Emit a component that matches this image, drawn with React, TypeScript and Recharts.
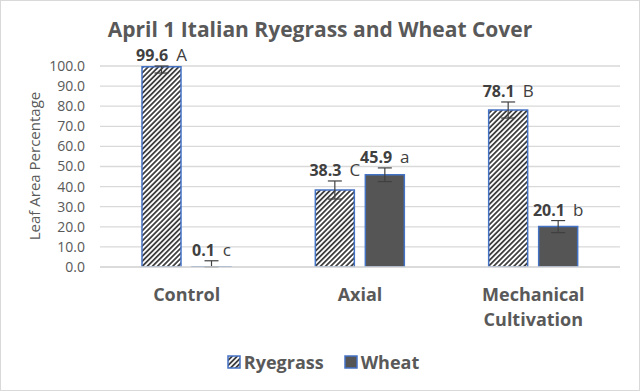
import React from 'react';
import { BarChart, Bar, XAxis, YAxis, CartesianGrid, ErrorBar, LabelList, Legend, Text } from 'recharts';

const categories = ['Control', 'Axial', 'Mechanical Cultivation'];
const ryegrass = [99.6, 38.3, 78.1];
const wheat = [0.1, 45.9, 20.1];
const ryeErr: [number, number][] = [[3.1, 0.4], [4.5, 4.5], [4, 4]];
const wheatErr: [number, number][] = [[0.1, 3], [3.4, 3.4], [3, 3]];
const ryeLetters = ['A', 'C', 'B'];
const wheatLetters = ['c', 'a', 'b'];
const yTicks = [0, 10, 20, 30, 40, 50, 60, 70, 80, 90, 100];

const data = categories.map((name, i) => ({
  name,
  Ryegrass: ryegrass[i],
  Wheat: wheat[i],
  ryeErr: ryeErr[i],
  wheatErr: wheatErr[i],
}));

const FONT = '"Open Sans", sans-serif';
const GRAY = '#595959';
const DARK = '#404040';
const BLUE = '#4472c4';
const WHEAT_FILL = '#555555';
const PLOT_TOP = 66;
const PLOT_BOTTOM = 267;
const PPU = (PLOT_BOTTOM - PLOT_TOP) / 100;

const makeLabel = (letters: string[], errs: [number, number][]) => (props: any) => {
  const { x, y, width, value, index } = props;
  const cx = Number(x) + Number(width) / 2;
  const up = errs[index][1];
  const by = Number(y) - up * PPU - 5;
  return (
    <text x={cx} y={by} textAnchor="middle" fontFamily={FONT} fill={DARK}>
      <tspan fontWeight="bold" fontSize={16}>{Number(value).toFixed(1)}</tspan>
      <tspan dx={8} fontSize={17}>{letters[index]}</tspan>
    </text>
  );
};

const XTick = (props: any) => {
  const { x, y, payload } = props;
  return (
    <Text
      x={x}
      y={y}
      width={130}
      textAnchor="middle"
      verticalAnchor="start"
      lineHeight={25}
      fontFamily={FONT}
      fontWeight="bold"
      fontSize={18}
      fill={GRAY}
    >
      {payload.value}
    </Text>
  );
};

const LegendContent = () => (
  <div
    style={{
      display: 'flex',
      justifyContent: 'center',
      alignItems: 'center',
      fontFamily: FONT,
      fontWeight: 'bold',
      fontSize: 18,
      lineHeight: '20px',
      color: GRAY,
      paddingLeft: 6,
    }}
  >
    <span style={{ display: 'flex', alignItems: 'center', marginRight: 20 }}>
      <svg width={14} height={14} style={{ marginRight: 3 }}>
        <rect x={1} y={1} width={12} height={12} fill="url(#ryePattern)" stroke={BLUE} strokeWidth={1.5} />
      </svg>
      Ryegrass
    </span>
    <span style={{ display: 'flex', alignItems: 'center' }}>
      <svg width={14} height={14} style={{ marginRight: 3 }}>
        <rect x={1} y={1} width={12} height={12} fill={WHEAT_FILL} stroke={BLUE} strokeWidth={1.5} />
      </svg>
      Wheat
    </span>
  </div>
);

export default function App() {
  return (
    <div
      style={{
        position: 'absolute',
        left: 0,
        top: 0,
        width: 640,
        height: 391,
        background: '#fff',
        boxSizing: 'border-box',
        border: '1px solid #d9d9d9',
      }}
    >
      <svg width={0} height={0} style={{ position: 'absolute' }}>
        <defs>
          <pattern id="ryePattern" patternUnits="userSpaceOnUse" width={3.6} height={3.6} patternTransform="rotate(45)">
            <rect x={0} y={0} width={3.6} height={3.6} fill="#ffffff" />
            <rect x={0} y={0} width={1.8} height={3.6} fill={DARK} />
          </pattern>
        </defs>
      </svg>
      <div style={{ position: 'absolute', left: -1, top: -1 }}>
        <BarChart
          width={640}
          height={391}
          data={data}
          margin={{ top: PLOT_TOP, right: 20, bottom: 94, left: 0 }}
          barSize={39}
          barGap={11}
        >
          <CartesianGrid horizontal vertical={false} stroke="#d9d9d9" strokeWidth={1.3} />
          <XAxis
            dataKey="name"
            height={30}
            tickLine={false}
            axisLine={{ stroke: '#d9d9d9', strokeWidth: 1.3 }}
            tickSize={0}
            tickMargin={21}
            tick={<XTick />}
            interval={0}
          />
          <YAxis
            width={100}
            domain={[0, 100]}
            allowDataOverflow
            ticks={yTicks}
            interval={0}
            tickFormatter={(v: number) => v.toFixed(1)}
            tickLine={false}
            axisLine={false}
            tickSize={0}
            tickMargin={15}
            tick={{ fill: GRAY, fontSize: 14, fontFamily: FONT }}
          />
          <Legend
            verticalAlign="middle"
            layout="horizontal"
            content={<LegendContent />}
            wrapperStyle={{ top: 352, left: 0, width: 640 }}
          />
          <Bar dataKey="Ryegrass" fill="url(#ryePattern)" stroke={BLUE} strokeWidth={1.5} isAnimationActive={false}>
            <ErrorBar dataKey="ryeErr" width={7} stroke={DARK} strokeWidth={1.2} direction="y" />
            <LabelList dataKey="Ryegrass" content={makeLabel(ryeLetters, ryeErr)} />
          </Bar>
          <Bar dataKey="Wheat" fill={WHEAT_FILL} stroke={BLUE} strokeWidth={1.5} isAnimationActive={false}>
            <ErrorBar dataKey="wheatErr" width={7} stroke={DARK} strokeWidth={1.2} direction="y" />
            <LabelList dataKey="Wheat" content={makeLabel(wheatLetters, wheatErr)} />
          </Bar>
        </BarChart>
      </div>
      <svg width={640} height={391} style={{ position: 'absolute', left: -1, top: -1, pointerEvents: 'none' }}>
        <text x={320} y={37} textAnchor="middle" fontFamily={FONT} fontWeight="bold" fontSize={21} fill={GRAY}>
          April 1 Italian Ryegrass and Wheat Cover
        </text>
        <text
          x={40}
          y={166}
          textAnchor="middle"
          transform="rotate(-90, 40, 166)"
          fontFamily={FONT}
          fontSize={15}
          fill={GRAY}
        >
          Leaf Area Percentage
        </text>
      </svg>
    </div>
  );
}
